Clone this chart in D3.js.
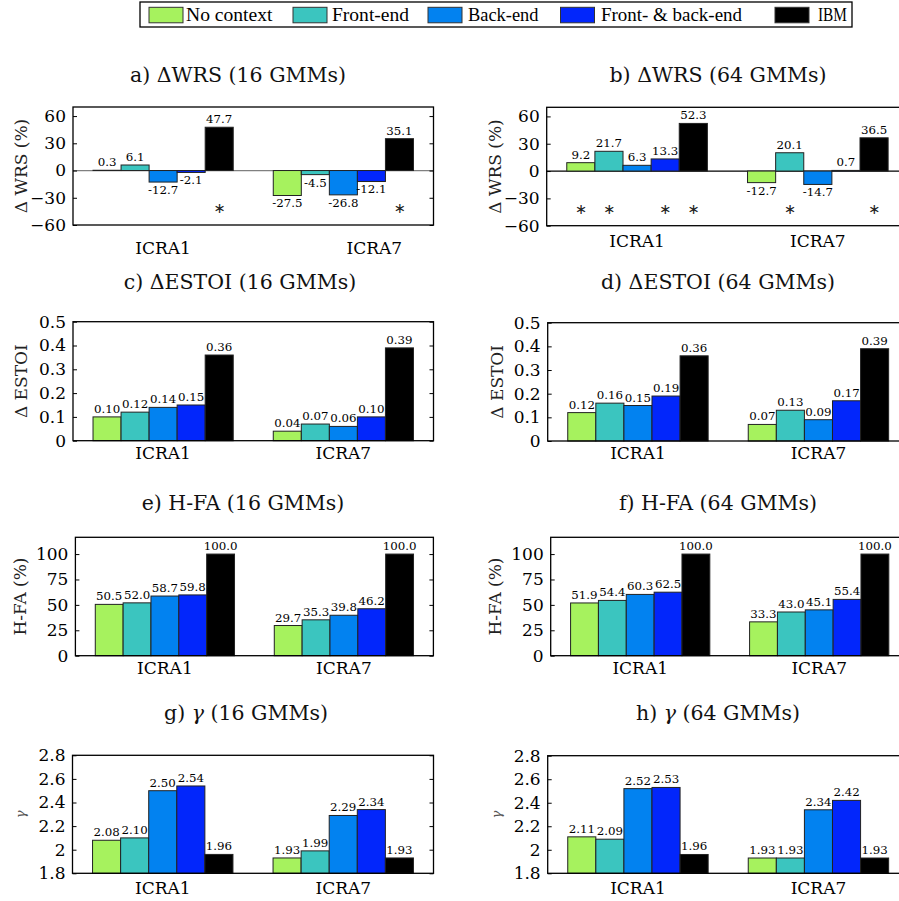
<!DOCTYPE html>
<html>
<head>
<meta charset="utf-8">
<script src="https://cdn.jsdelivr.net/npm/d3@7"></script>
<style>
  html, body { margin: 0; padding: 0; background: #fff; }
  svg { display: block; }
</style>
</head>
<body>
<script>
// ---------------- DATA ----------------
const categories = ["ICRA1", "ICRA7"];
const series = ["No context", "Front-end", "Back-end", "Front- & back-end", "IBM"];
const seriesColors = ["#a6f25e", "#3bc5bf", "#0282f0", "#0226fb", "#000000"];

// rows = categories, columns = series
const wrs16   = [[0.3, 6.1, -12.7, -2.1, 47.7], [-27.5, -4.5, -26.8, -12.1, 35.1]];
const wrs64   = [[9.2, 21.7, 6.3, 13.3, 52.3], [-12.7, 20.1, -14.7, 0.7, 36.5]];
const estoi16 = [[0.10, 0.12, 0.14, 0.15, 0.36], [0.04, 0.07, 0.06, 0.10, 0.39]];
const estoi64 = [[0.12, 0.16, 0.15, 0.19, 0.36], [0.07, 0.13, 0.09, 0.17, 0.39]];
const hfa16   = [[50.5, 52.0, 58.7, 59.8, 100.0], [29.7, 35.3, 39.8, 46.2, 100.0]];
const hfa64   = [[51.9, 54.4, 60.3, 62.5, 100.0], [33.3, 43.0, 45.1, 55.4, 100.0]];
const gamma16 = [[2.08, 2.10, 2.50, 2.54, 1.96], [1.93, 1.99, 2.29, 2.34, 1.93]];
const gamma64 = [[2.11, 2.09, 2.52, 2.53, 1.96], [1.93, 1.93, 2.34, 2.42, 1.93]];

// significance markers (1 = asterisk)
const sig16 = [[0, 0, 0, 0, 1], [0, 0, 0, 0, 1]];
const sig64 = [[1, 1, 0, 1, 1], [0, 1, 0, 0, 1]];

const wrsTicks   = [-60, -30, 0, 30, 60];
const estoiTicks = [0, 0.1, 0.2, 0.3, 0.4, 0.5];
const hfaTicks   = [0, 25, 50, 75, 100];
const gammaTicks = [1.8, 2, 2.2, 2.4, 2.6, 2.8];

// ---------------- LAYOUT ----------------
const SERIF = "'DejaVu Serif', serif";
const svg = d3.select("body").append("svg").attr("width", 899).attr("height", 901);
svg.append("rect").attr("width", 899).attr("height", 901).attr("fill", "#fff");

const panels = [
  { title: ["a) ΔWRS (16 GMMs)"], data: wrs16, sig: sig16, domain: [-60, 70], base: 0, ticks: wrsTicks, fmt: 1, tfmt: d3.format("d"),
    left: 73, width: 360.5, top: 107, bottom: 225, tx: 238, ty: 82, ylab: "Δ WRS (%)", ylx: 21, xpad: 16.5, zero: "#808080", shift7: 31 },
  { title: ["b) ΔWRS (64 GMMs)"], data: wrs64, sig: sig64, domain: [-60, 70], base: 0, ticks: wrsTicks, fmt: 1, tfmt: d3.format("d"),
    left: 546.7, width: 361.5, top: 107.3, bottom: 225.7, tx: 718, ty: 82, ylab: "Δ WRS (%)", ylx: 495, xpad: 9.3, zero: "#000" },
  { title: ["c) ΔESTOI (16 GMMs)"], data: estoi16, domain: [0, 0.5], base: 0, ticks: estoiTicks, fmt: 2, tfmt: d3.format("~g"),
    left: 73, width: 360.5, top: 321.7, bottom: 440.7, tx: 240, ty: 289, ylab: "Δ ESTOI", ylx: 21.5, xpad: 6 },
  { title: ["d) ΔESTOI (64 GMMs)"], data: estoi64, domain: [0, 0.5], base: 0, ticks: estoiTicks, fmt: 2, tfmt: d3.format("~g"),
    left: 547.7, width: 361, top: 322.7, bottom: 441, tx: 718, ty: 289, ylab: "Δ ESTOI", ylx: 497, xpad: 5.7 },
  { title: ["e) H-FA (16 GMMs)"], data: hfa16, domain: [0, 116.5], base: 0, ticks: hfaTicks, fmt: 1, tfmt: d3.format("d"),
    left: 75.4, width: 358, top: 537.3, bottom: 655.7, tx: 243, ty: 510, ylab: "H-FA (%)", ylx: 20.5, xpad: 6 },
  { title: ["f) H-FA (64 GMMs)"], data: hfa64, domain: [0, 116.5], base: 0, ticks: hfaTicks, fmt: 1, tfmt: d3.format("d"),
    left: 550.7, width: 358, top: 537.3, bottom: 655.7, tx: 718, ty: 510, ylab: "H-FA (%)", ylx: 495, xpad: 6 },
  { title: ["g) ", "γ", " (16 GMMs)"], data: gamma16, domain: [1.8, 2.8], base: 1.8, ticks: gammaTicks, fmt: 2, tfmt: d3.format("~g"),
    left: 72.5, width: 361, top: 755.3, bottom: 873.3, tx: 246, ty: 720, ylab: "γ", ylx: 20.7, xpad: 8.4, small: true },
  { title: ["h) ", "γ", " (64 GMMs)"], data: gamma64, domain: [1.8, 2.8], base: 1.8, ticks: gammaTicks, fmt: 2, tfmt: d3.format("~g"),
    left: 547.7, width: 361, top: 755.7, bottom: 873.3, tx: 718, ty: 720, ylab: "γ", ylx: 496.7, xpad: 8.4, small: true }
];

function drawPanel(p) {
  const g = svg.append("g");
  const right = p.left + p.width;
  const x0 = d3.scaleBand().domain(categories).range([p.left, right]).paddingInner(0).paddingOuter(0);
  const x1 = d3.scaleBand().domain(series).range([0, x0.bandwidth()]).paddingInner(0).paddingOuter(0.714);
  const y = d3.scaleLinear().domain(p.domain).range([p.bottom, p.top]);

  // title
  const t = g.append("text").attr("x", p.tx).attr("y", p.ty).attr("text-anchor", "middle")
    .attr("font-family", SERIF).attr("font-size", 20.5).attr("fill", "#111");
  p.title.forEach((s) => {
    const ts = t.append("tspan").text(s);
    if (s === "γ") ts.attr("font-style", "italic");
  });

  // zero line
  if (p.zero) {
    g.append("line").attr("x1", p.left).attr("x2", right).attr("y1", y(0)).attr("y2", y(0))
      .attr("stroke", p.zero).attr("stroke-width", 1.2);
  }

  // bars
  const flat = [];
  p.data.forEach((row, i) => row.forEach((v, j) => flat.push({ cat: categories[i], s: series[j], j, i, v })));
  g.selectAll("rect.bar").data(flat).enter().append("rect").attr("class", "bar")
    .attr("x", d => x0(d.cat) + x1(d.s))
    .attr("width", x1.bandwidth())
    .attr("y", d => y(Math.max(d.v, p.base)))
    .attr("height", d => Math.abs(y(d.v) - y(p.base)))
    .attr("fill", d => seriesColors[d.j])
    .attr("stroke", "#222").attr("stroke-width", 1);

  // value labels
  g.selectAll("text.val").data(flat).enter().append("text").attr("class", "val")
    .attr("x", d => x0(d.cat) + x1(d.s) + x1.bandwidth() / 2)
    .attr("y", d => d.v >= p.base ? y(d.v) - 4 : y(d.v) + 3)
    .attr("dy", d => d.v >= p.base ? 0 : "0.76em")
    .attr("text-anchor", "middle")
    .attr("font-family", SERIF).attr("font-size", 11.8).attr("fill", "#000")
    .text(d => d.v.toFixed(p.fmt));

  // significance asterisks
  if (p.sig) {
    const sflat = flat.filter(d => p.sig[d.i][d.j]);
    g.selectAll("text.sig").data(sflat).enter().append("text").attr("class", "sig")
      .attr("x", d => x0(d.cat) + x1(d.s) + x1.bandwidth() / 2)
      .attr("y", y(-40))
      .attr("dy", "0.42em")
      .attr("text-anchor", "middle")
      .attr("font-family", "'DejaVu Sans', sans-serif").attr("font-size", 14.5).attr("fill", "#222")
      .text("∗");
  }

  // axes
  const ya = g.append("g").attr("transform", `translate(${p.left},0)`)
    .call(d3.axisLeft(y).tickValues(p.ticks).tickFormat(p.tfmt).tickSizeInner(-4).tickSizeOuter(0).tickPadding(7));
  ya.select(".domain").remove();
  ya.selectAll("text").attr("font-family", SERIF).attr("font-size", 17).attr("fill", "#000");
  ya.selectAll("line").attr("stroke", "#000");
  const yr = g.append("g").attr("transform", `translate(${right},0)`)
    .call(d3.axisRight(y).tickValues(p.ticks).tickSizeInner(-4).tickSizeOuter(0).tickFormat(""));
  yr.select(".domain").remove();
  yr.selectAll("line").attr("stroke", "#000");

  const xa = g.append("g").attr("transform", `translate(0,${p.bottom})`)
    .call(d3.axisBottom(x0).tickSize(0).tickPadding(p.xpad));
  xa.select(".domain").remove();
  xa.selectAll("text").attr("font-family", SERIF).attr("font-size", 17).attr("fill", "#000");
  if (p.shift7) {
    xa.selectAll(".tick").filter(d => d === "ICRA7")
      .attr("transform", d => `translate(${x0(d) + x0.bandwidth() / 2 + p.shift7},0)`);
  }

  // box
  g.append("rect").attr("x", p.left).attr("y", p.top).attr("width", p.width).attr("height", p.bottom - p.top)
    .attr("fill", "none").attr("stroke", "#000").attr("stroke-width", 1.3);

  // y label
  const yl = g.append("text")
    .attr("transform", `translate(${p.ylx},${(p.top + p.bottom) / 2}) rotate(-90)`)
    .attr("text-anchor", "middle").attr("dy", "0.35em")
    .attr("font-family", SERIF)
    .attr("font-size", p.small ? 13 : 17)
    .attr("fill", p.small ? "#555" : "#222")
    .text(p.ylab);
  if (p.small) yl.attr("font-style", "italic");
}

panels.forEach(drawPanel);

// ---------------- LEGEND ----------------
const legendLayout = [
  { sx: 149, tx: 186, w: 86.5 }, { sx: 293, tx: 332, w: 77 }, { sx: 428, tx: 468, w: 70.5 },
  { sx: 560.5, tx: 601, w: 141 }, { sx: 775, tx: 818, w: 29 }
];
const lg = svg.append("g");
lg.append("rect").attr("x", 140).attr("y", 2).attr("width", 712).attr("height", 25)
  .attr("fill", "#fff").attr("stroke", "#000").attr("stroke-width", 1.3);
series.forEach((s, j) => {
  lg.append("rect").attr("x", legendLayout[j].sx).attr("y", 7.3).attr("width", 34).attr("height", 15.5)
    .attr("fill", seriesColors[j]).attr("stroke", "#333").attr("stroke-width", 1);
  lg.append("text").attr("x", legendLayout[j].tx).attr("y", 21)
    .attr("font-family", "'Liberation Serif', 'Times New Roman', serif").attr("font-size", 19)
    .attr("textLength", legendLayout[j].w).attr("lengthAdjust", "spacingAndGlyphs")
    .attr("fill", "#000").text(s);
});
</script>
</body>
</html>
